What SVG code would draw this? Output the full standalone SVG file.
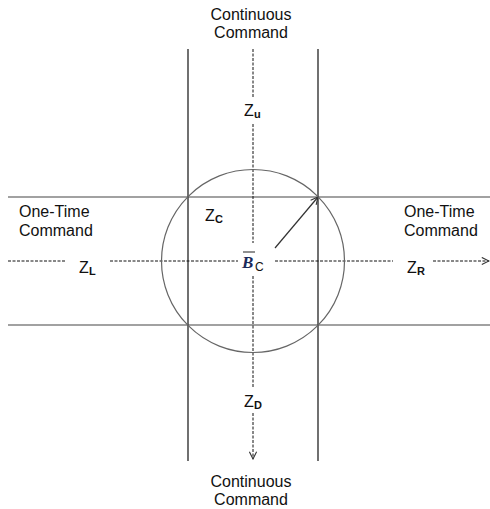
<svg xmlns="http://www.w3.org/2000/svg" width="490" height="509" viewBox="0 0 490 509">
<defs>
<style>
.lbl{font-family:"Liberation Sans",Arial,sans-serif;font-size:16px;fill:#111}
.z{font-family:"Liberation Sans",Arial,sans-serif;font-size:16px;fill:#111}
.sub{font-family:"Liberation Sans",Arial,sans-serif;font-size:11px;font-weight:bold;fill:#111}
.solid{stroke:#111;stroke-width:1.2;fill:none}
.hline{stroke:#444;stroke-width:1.2;fill:none}
.dash{stroke:#111;stroke-width:1;stroke-dasharray:3,1.5;fill:none}
</style>
<marker id="open" viewBox="0 0 10 10" refX="9" refY="5" markerWidth="9" markerHeight="9" orient="auto" markerUnits="userSpaceOnUse">
<path d="M1,1 L9,5 L1,9" fill="none" stroke="#333" stroke-width="1.2"/>
</marker>
</defs>
<rect width="490" height="509" fill="#fff"/>
<g id="connectors">
<line class="solid" x1="188" y1="49" x2="188" y2="461"/>
<line class="solid" x1="318" y1="49" x2="318" y2="461"/>
<line class="hline" x1="8" y1="197" x2="490" y2="197"/>
<line class="hline" x1="8" y1="325" x2="490" y2="325"/>
<line class="dash" x1="253" y1="49" x2="253" y2="97"/>
<line class="dash" x1="253" y1="124" x2="253" y2="243"/>
<line class="dash" x1="253" y1="276" x2="253" y2="388"/>
<line class="dash" x1="253" y1="413" x2="253" y2="459" marker-end="url(#open)"/>
<line class="dash" x1="8" y1="261" x2="65" y2="261"/>
<line class="dash" x1="110" y1="261" x2="238" y2="261"/>
<line class="dash" x1="275" y1="261" x2="393" y2="261"/>
<line class="dash" x1="433" y1="261" x2="489" y2="261" marker-end="url(#open)"/>
<line x1="275" y1="248" x2="318" y2="197" stroke="#333" stroke-width="1.2" marker-end="url(#open)"/>
</g>
<g id="circle"><circle cx="253" cy="261" r="91.5" fill="none" stroke="#666" stroke-width="1.2"/></g>
<g id="top-label"><text class="lbl" x="251" y="20" text-anchor="middle">Continuous</text><text class="lbl" x="251" y="38" text-anchor="middle">Command</text></g>
<g id="bottom-label"><text class="lbl" x="251" y="487" text-anchor="middle">Continuous</text><text class="lbl" x="251" y="505" text-anchor="middle">Command</text></g>
<g id="left-label"><text class="lbl" x="19" y="217">One-Time</text><text class="lbl" x="19" y="236">Command</text></g>
<g id="right-label"><text class="lbl" x="404" y="217">One-Time</text><text class="lbl" x="404" y="236">Command</text></g>
<g id="zu"><text class="z" x="244" y="116">Z</text><text class="sub" x="254" y="118">u</text></g>
<g id="zc"><text class="z" x="205" y="221">Z</text><text class="sub" x="215" y="223">C</text></g>
<g id="zl"><text class="z" x="79" y="273">Z</text><text class="sub" x="89" y="275">L</text></g>
<g id="zr"><text class="z" x="407" y="273">Z</text><text class="sub" x="417" y="275">R</text></g>
<g id="zd"><text class="z" x="244" y="407">Z</text><text class="sub" x="254" y="409">D</text></g>
<g id="bc">
<line x1="243" y1="252" x2="255" y2="252" stroke="#222" stroke-width="1"/>
<text x="242" y="268" font-family="Liberation Serif,serif" font-size="17" font-weight="bold" font-style="italic" fill="#1a2a5a">B</text>
<text x="255" y="271" font-family="Liberation Sans,Arial,sans-serif" font-size="12" fill="#111">C</text>
</g>
</svg>
